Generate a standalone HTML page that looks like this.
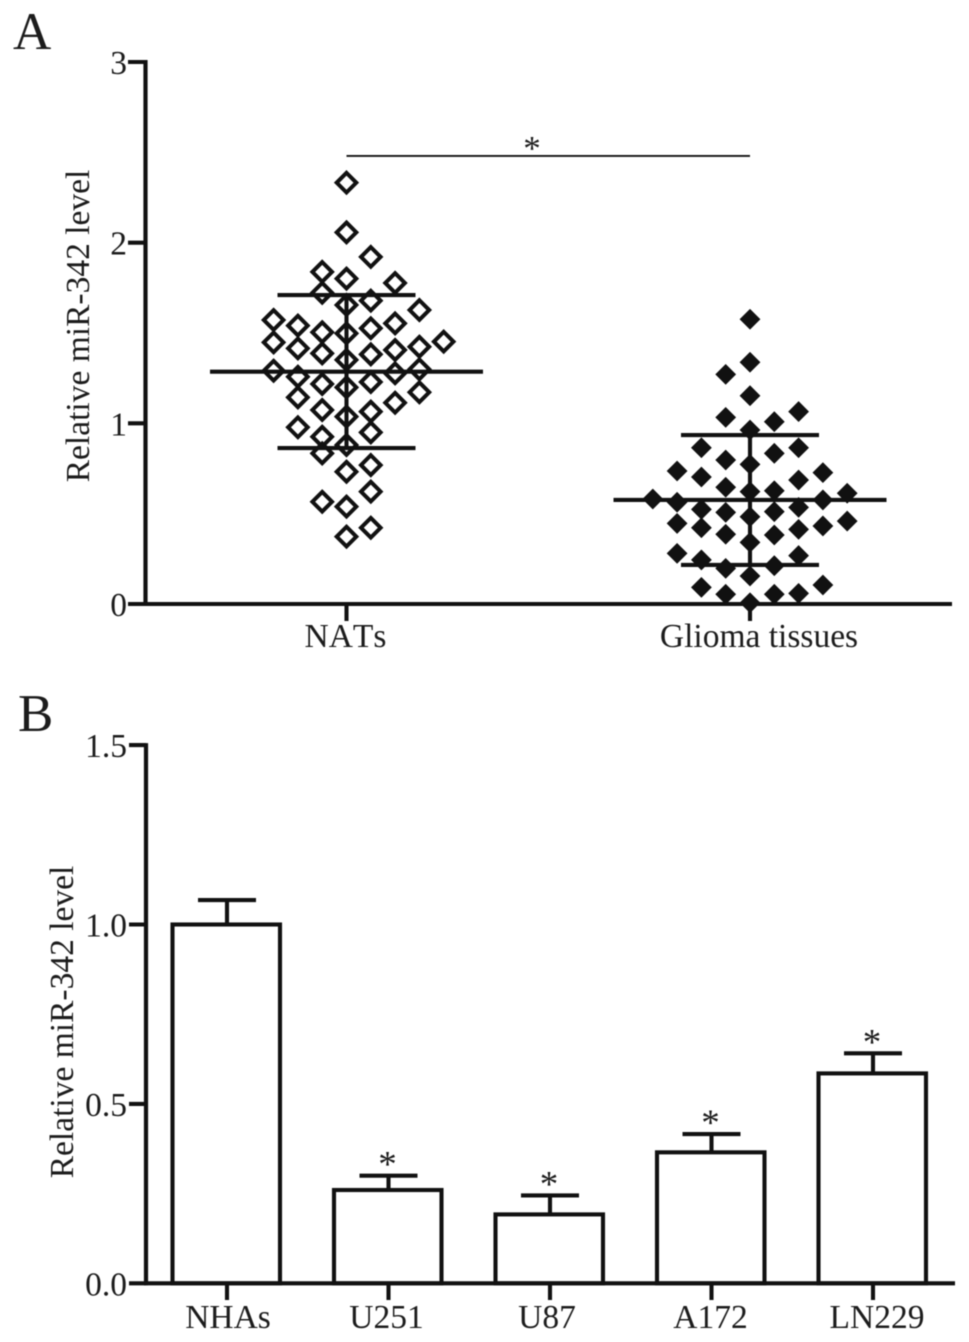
<!DOCTYPE html>
<html>
<head>
<meta charset="utf-8">
<title>Relative miR-342 level</title>
<style>
html,body{margin:0;padding:0;background:#fff;}
svg{display:block;filter:blur(.45px);}
text{font-family:"Liberation Serif",serif;fill:#1c1c1c;font-kerning:none;}
</style>
</head>
<body>
<svg id="chart" xmlns="http://www.w3.org/2000/svg" width="969" height="1342" viewBox="0 0 969 1342"></svg>
<script>
// Panel A data
const scatterTicks = [0, 1, 2, 3];
const scatterTickLabels = ['0', '1', '2', '3'];
const scatterGroups = ['NATs', 'Glioma tissues'];
const natsSlots = [0,0,1,-1,0,2,-1,1,0,3,-3,-2,2,-1,1,0,4,-3,-2,3,2,-1,1,0,-3,-2,2,3,-1,1,0,-2,3,2,-1,1,0,-2,-1,1,0,-1,1,0,1,-1,0,1,0];
const natsValues = [2.332,2.057,1.921,1.838,1.801,1.777,1.723,1.679,1.655,1.627,1.572,1.541,1.553,1.504,1.526,1.498,1.452,1.448,1.415,1.424,1.406,1.387,1.382,1.351,1.291,1.258,1.277,1.299,1.218,1.229,1.199,1.144,1.172,1.114,1.074,1.065,1.037,0.978,0.926,0.950,0.880,0.834,0.769,0.732,0.622,0.566,0.539,0.422,0.373];
const gliomaSlots = [0,0,-1,0,2,-1,1,0,-2,2,1,-1,0,-3,3,-2,2,-1,1,0,4,-4,3,-3,2,-2,-1,1,0,-3,4,-2,3,2,-1,1,0,-3,2,-2,-1,1,0,3,-2,-1,1,2,0];
const gliomaValues = [1.576,1.338,1.271,1.153,1.065,1.033,1.009,0.963,0.865,0.865,0.834,0.797,0.773,0.736,0.727,0.703,0.686,0.646,0.627,0.622,0.613,0.581,0.576,0.563,0.535,0.524,0.507,0.511,0.483,0.446,0.459,0.422,0.432,0.413,0.386,0.382,0.341,0.280,0.268,0.244,0.197,0.212,0.155,0.105,0.092,0.054,0.054,0.059,0.007];
const groupMeans = [1.286, 0.576];
const groupUppers = [1.71, 0.935];
const groupLowers = [0.863, 0.216];
const significanceLevelA = 2.48;

// Panel B data
const barTicks = [0, 0.5, 1, 1.5];
const barTickLabels = ['0.0', '0.5', '1.0', '1.5'];
const barCategories = ['NHAs', 'U251', 'U87', 'A172', 'LN229'];
const barValues = [1.0, 0.26, 0.192, 0.365, 0.585];
const barErrors = [0.068, 0.04, 0.053, 0.051, 0.056];
const barStars = ['', '*', '*', '*', '*'];

// Axis functions
const yA = v => 604 - v * 180.67;
const yB = v => 1283.3 - v * 358.8;
const groupX = i => 346.5 + i * 403.5;
const slotX = (i, s) => groupX(i) + s * 24.3;
const barX = i => 226 + i * 161.5;

const svg = document.getElementById('chart');
const NS = 'http://www.w3.org/2000/svg';
const LW = 4.1;
function make(tag, attrs, parent) {
  const el = document.createElementNS(NS, tag);
  for (const k in attrs) el.setAttribute(k, attrs[k]);
  (parent || svg).appendChild(el);
  return el;
}
function line(x1, y1, x2, y2, w, parent) {
  return make('line', {x1: x1, y1: y1, x2: x2, y2: y2, stroke: '#111', 'stroke-width': w, 'stroke-linecap': 'butt'}, parent);
}
function label(str, x, y, size, anchor, parent) {
  const t = make('text', {x: x, y: y, 'font-size': size, 'text-anchor': anchor}, parent);
  t.textContent = str;
  return t;
}
function diamond(cx, cy, r, filled, parent) {
  const d = 'M' + cx + ' ' + (cy - r) + 'L' + (cx + r) + ' ' + cy + 'L' + cx + ' ' + (cy + r) + 'L' + (cx - r) + ' ' + cy + 'Z';
  return make('path', filled ? {d: d, fill: '#111'} : {d: d, fill: 'none', stroke: '#111', 'stroke-width': 4}, parent);
}

/* ---------- Panel A ---------- */
const panelA = make('g', {});



const letterA = label('A', 13, 49, 53, 'start', panelA);



const yAxisA = line(145.5, yA(3) - 2, 145.5, yA(0) + 2, 4.2, panelA);



const xAxisA = line(144, yA(0), 952, yA(0), LW, panelA);



scatterTicks.forEach((v, i) => {
  const tick = line(128, yA(v), 146, yA(v), LW, panelA);
  
  
  const t = label(scatterTickLabels[i], 127, yA(v) + 12, 33.5, 'end', panelA);
  
  
});

const titleA = label('Relative miR-342 level', 0, 0, 33.5, 'middle', panelA);
titleA.setAttribute('transform', 'translate(89 326) rotate(-90)');



const groupLabelShift = [-1, 9];
scatterGroups.forEach((g, i) => {
  const tick = line(groupX(i), yA(0), groupX(i), 621, LW, panelA);
  
  
  const t = label(g, groupX(i) + groupLabelShift[i], 647, 33.5, 'middle', panelA);
  
  
});

natsValues.forEach((v, i) => {
  const p = diamond(slotX(0, natsSlots[i]), yA(v), 9.8, false, panelA);
  
  
});
gliomaValues.forEach((v, i) => {
  const p = diamond(slotX(1, gliomaSlots[i]), yA(v), 10.4, true, panelA);
  
  
});

groupMeans.forEach((m, i) => {
  const cx = groupX(i);
  const mean = line(cx - 136.5, yA(m), cx + 136.5, yA(m), LW, panelA);
  
  
  const stem = line(cx, yA(groupUppers[i]), cx, yA(groupLowers[i]), LW, panelA);
  
  
  const up = line(cx - 69, yA(groupUppers[i]), cx + 69, yA(groupUppers[i]), LW, panelA);
  
  
  const low = line(cx - 69, yA(groupLowers[i]), cx + 69, yA(groupLowers[i]), LW, panelA);
  
  
});

const sigLine = line(groupX(0), yA(significanceLevelA), groupX(1), yA(significanceLevelA), 1.8, panelA);


const sigStar = label('*', 532, yA(significanceLevelA) + 4, 35, 'middle', panelA);



/* ---------- Panel B ---------- */
const panelB = make('g', {});



const letterB = label('B', 18, 731, 53, 'start', panelB);



barValues.forEach((v, i) => {
  const cx = barX(i);
  const err = barErrors[i];
  const stem = line(cx + 1, yB(v), cx + 1, yB(v + err), LW, panelB);
  
  
  const cap = line(cx - 28, yB(v + err), cx + 30, yB(v + err), LW, panelB);
  
  
  const bar = make('rect', {x: cx - 53.5, y: yB(v), width: 107.5, height: yB(0) - yB(v), fill: '#fff', stroke: '#111', 'stroke-width': LW}, panelB);
  
  
  if (barStars[i]) {
    const s = label(barStars[i], cx, yB(v + err) + 1, 37, 'middle', panelB);
    
    
  }
});

const yAxisB = line(146, yB(1.5) - 2, 146, yB(0) + 2, 4.2, panelB);



const xAxisB = line(144, yB(0), 955, yB(0), LW, panelB);



barTicks.forEach((v, i) => {
  const tick = line(129, yB(v), 146, yB(v), LW, panelB);
  
  
  const t = label(barTickLabels[i], 127, yB(v) + 12, 33.5, 'end', panelB);
  
  
});

const titleB = label('Relative miR-342 level', 0, 0, 33.5, 'middle', panelB);
titleB.setAttribute('transform', 'translate(73 1022) rotate(-90)');



const barLabelShift = [2, -1, -2, 0, 5];
barCategories.forEach((c, i) => {
  const tick = line(barX(i) + 1, yB(0), barX(i) + 1, 1300, LW, panelB);
  
  
  const t = label(c, barX(i) + barLabelShift[i], 1328, 33.5, 'middle', panelB);
  
  
});
</script>
</body>
</html>
